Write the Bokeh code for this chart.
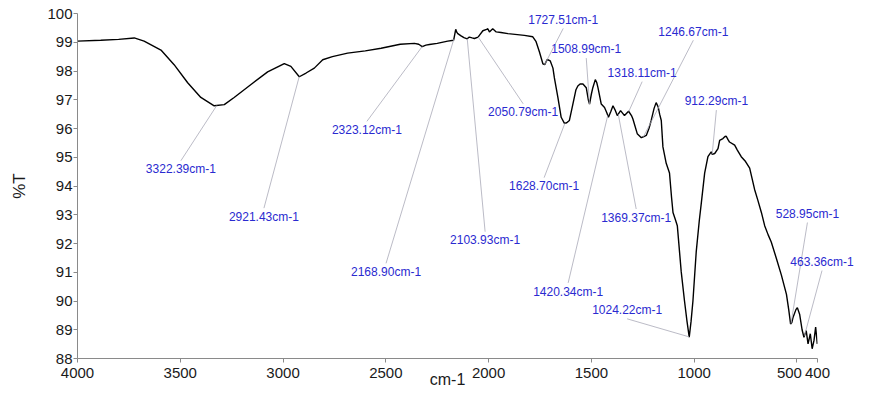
import numpy as np
from bokeh.plotting import figure
from bokeh.models import Range1d, FixedTicker
from bokeh.core.properties import value
from bokeh.embed import file_html
from bokeh.resources import INLINE

# ---- spectrum (wavenumber in cm-1, transmittance in %T) ----
wavenumber = [
    4000, 3887, 3800, 3724, 3676, 3594, 3530, 3464, 3400, 3335, 3286, 3238, 3156, 3075,
    2994, 2962, 2921, 2888, 2848, 2807, 2760, 2686, 2600, 2523, 2430, 2361, 2340, 2323,
    2305, 2288, 2250, 2199, 2170, 2160, 2155, 2150, 2134, 2120, 2104, 2094, 2080, 2069,
    2051, 2045, 2028, 2010, 2004, 1996, 1980, 1963, 1940, 1906, 1826, 1785, 1769, 1753,
    1736, 1727, 1715, 1700, 1687, 1680, 1663, 1647, 1631, 1620, 1607, 1590, 1575, 1566,
    1555, 1541, 1525, 1515, 1509, 1500, 1493, 1481, 1474, 1468, 1452, 1436, 1425, 1417,
    1405, 1395, 1385, 1374, 1358, 1339, 1319, 1305, 1298, 1277, 1257, 1245, 1233, 1220,
    1209, 1195, 1185, 1175, 1168, 1160, 1152, 1136, 1120, 1110, 1103, 1090, 1082, 1063,
    1047, 1035, 1024, 1015, 1006, 990, 975, 965, 949, 933, 917, 912, 900, 884, 876, 860,
    850, 844, 836, 828, 803, 790, 771, 750, 730, 706, 690, 673, 657, 640, 625, 600, 576,
    551, 540, 531, 525, 519, 505, 498, 487, 475, 466, 455, 446, 435, 426, 417, 409, 401,
]
transmittance = [
    99.04, 99.07, 99.10, 99.15, 99.04, 98.73, 98.22, 97.59, 97.08, 96.79, 96.83, 97.08, 97.53, 97.97,
    98.26, 98.16, 97.80, 97.93, 98.10, 98.39, 98.50, 98.62, 98.70, 98.79, 98.93, 98.96, 98.93, 98.85,
    98.90, 98.92, 98.96, 99.04, 99.07, 99.45, 99.35, 99.30, 99.22, 99.16, 99.12, 99.18, 99.15, 99.13,
    99.18, 99.24, 99.40, 99.45, 99.47, 99.36, 99.47, 99.36, 99.34, 99.30, 99.24, 99.19, 99.02, 98.67,
    98.25, 98.22, 98.40, 98.35, 98.10, 97.76, 97.08, 96.39, 96.18, 96.20, 96.28, 96.85, 97.35, 97.48,
    97.55, 97.55, 97.42, 97.00, 96.85, 97.20, 97.42, 97.70, 97.60, 97.42, 96.85, 96.73, 96.55, 96.39,
    96.60, 96.79, 96.65, 96.45, 96.62, 96.45, 96.60, 96.45, 96.33, 95.82, 95.68, 95.72, 95.76, 96.00,
    96.28, 96.70, 96.90, 96.75, 96.50, 96.28, 95.36, 94.79, 94.45, 93.60, 93.08, 92.80, 92.62, 91.02,
    90.00, 89.30, 88.74, 89.30, 90.00, 91.71, 92.80, 93.42, 94.45, 95.02, 95.19, 95.10, 95.13, 95.30, 95.59, 95.65,
    95.72, 95.73, 95.62, 95.53, 95.42, 95.25, 95.02, 94.85, 94.62, 93.88, 93.50, 93.08, 92.62, 92.30, 92.05, 91.48, 90.91,
    90.23, 89.70, 89.20, 89.25, 89.43, 89.70, 89.77, 89.54, 89.00, 88.74, 88.97, 88.51, 88.86, 88.34, 88.63, 89.09, 88.51,
]

# ---- annotated peaks ----
peak_wavenumbers = [3322.39, 2921.43, 2323.12, 2168.90, 2103.93, 2050.79, 1727.51, 1508.99,
                    1318.11, 1246.67, 912.29, 1628.70, 1369.37, 1420.34, 1024.22, 528.95, 463.36]
peak_labels = [f"{w:.2f}cm-1" for w in peak_wavenumbers]

# label anchor positions (text centre, data units)
label_x = [3497, 3093, 2592, 2499, 2017, 1832, 1637, 1525, 1253, 1004, 892, 1730, 1282, 1613, 1326, 449, 378]
label_y = [94.58, 92.93, 95.95, 91.01, 92.11, 96.56, 99.78, 98.75, 97.93, 99.37, 96.94, 93.99, 92.90, 90.33, 89.68, 93.03, 91.36]

x_ticks = [4000, 3500, 3000, 2500, 2000, 1500, 1000, 500, 400]
y_ticks = [88, 89, 90, 91, 92, 93, 94, 95, 96, 97, 98, 99, 100]

# ---- figure ----
p = figure(width=856, height=389, output_backend="svg", toolbar_location=None,
           x_range=Range1d(4000, 400), y_range=Range1d(88, 100),
           min_border_left=77, min_border_right=39, min_border_top=13, min_border_bottom=31)
p.outline_line_color = None
p.xgrid.visible = False
p.ygrid.visible = False
p.background_fill_color = "white"
p.border_fill_color = "white"

FONT = "Liberation Sans"
for ax in (p.xaxis[0], p.yaxis[0]):
    ax.axis_line_color = "#8a8a8a"
    ax.major_tick_line_color = "#8a8a8a"
    ax.minor_tick_line_color = None
    ax.major_tick_in = 0
    ax.major_tick_out = 4
    ax.major_label_text_font = FONT
    ax.major_label_text_font_size = "15px"
    ax.major_label_text_color = "#1a1a1a"
    ax.axis_label_text_font = FONT
    ax.axis_label_text_font_style = "normal"
    ax.axis_label_text_color = "#1a1a1a"
    ax.axis_label_text_font_size = "17px"

p.xaxis[0].ticker = FixedTicker(ticks=x_ticks)
p.xaxis[0].major_label_standoff = 1
p.xaxis[0].major_label_overrides = {500: "500\u2003"}
p.yaxis[0].ticker = FixedTicker(ticks=y_ticks)
p.yaxis[0].major_label_standoff = 1
p.yaxis[0].axis_label = "%T"
p.yaxis[0].axis_label_standoff = 15

# spectrum
p.line(wavenumber, transmittance, line_color="black", line_width=1.4)

# leader lines from each peak on the curve to its label
wn_arr = np.array(wavenumber, dtype=float)[::-1]
t_arr = np.array(transmittance, dtype=float)[::-1]
peak_t = np.interp(peak_wavenumbers, wn_arr, t_arr)
ly = np.array(label_y)
end_y = ly + np.sign(peak_t - ly) * 0.3
p.segment(x0=peak_wavenumbers, y0=peak_t, x1=label_x, y1=end_y,
          line_color="#aaaab8", line_width=0.8, level="overlay")

# peak labels
p.text(x=label_x, y=label_y, text=peak_labels,
       text_align="center", text_baseline="middle",
       text_font=value(FONT), text_font_size=value("12px"),
       text_color="#2a2ad0", level="overlay")

# x axis title just below the tick labels
p.text(x=[2200], y=[87.27], text=["cm-1"], text_align="center", text_baseline="middle",
       text_font=value(FONT), text_font_size=value("16px"), text_color="#1a1a1a",
       level="overlay")

open("out.html", "w").write(file_html(p, INLINE))
